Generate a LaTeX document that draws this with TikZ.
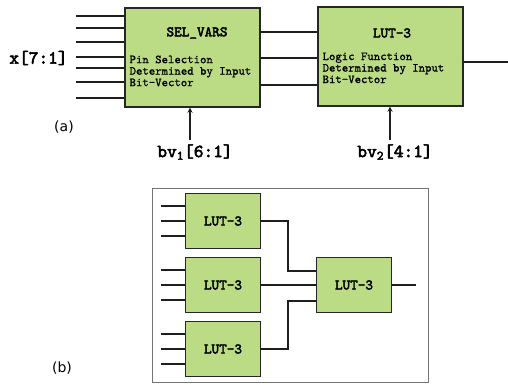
\documentclass[tikz,border=0pt]{standalone}
\usepackage{fontspec}
\setsansfont{DejaVu Sans}
\setmonofont{lmmono10-regular.otf}[UprightFeatures={FakeBold=1}, BoldFont=lmmono10-regular.otf, BoldFeatures={FakeBold=3}]
\usetikzlibrary{arrows,positioning}
\definecolor{lutgreen}{RGB}{187,220,133}
\definecolor{wire}{RGB}{30,30,30}
\begin{document}
\begin{tikzpicture}[x=1pt,y=-1pt, line width=1.2pt, draw=wire, >=stealth,
	bigblk/.style={draw=black!85, fill=lutgreen, line width=1.4pt, minimum width=135pt, minimum height=99pt, inner sep=0pt},
	lutblk/.style={draw=black!85, fill=lutgreen, line width=1.4pt, minimum width=75pt, minimum height=55pt, inner sep=0pt, font=\ttfamily\bfseries\fontsize{14.5}{16}\selectfont},
	ttl/.style={font=\ttfamily\bfseries\fontsize{14.5}{16}\selectfont},
	desc/.style={font=\ttfamily\fontsize{12.2}{11.5}\selectfont, align=left, anchor=north west, inner sep=0pt},
	sig/.style={font=\ttfamily\bfseries\fontsize{18.5}{20}\selectfont},
	tag/.style={font=\sffamily\fontsize{14}{16}\selectfont}]
		\useasboundingbox (0,0) rectangle (508,385);
		% (a) two stage block
		\node[bigblk] (sel) at (192.5,57.5) {};
		\node[bigblk, minimum width=145pt] (lut) at (390.5,56.5) {};
		\node[ttl] (selT) at (197,33) {SEL\_VARS};
		\node[desc] (selD) at (129,55) {Pin Selection\\Determined by Input\\Bit-Vector};
		\node[ttl] (lutT) at (392,33) {LUT-3};
		\node[desc] (lutD) at (322,52) {Logic Function\\Determined by Input\\Bit-Vector};
		\foreach \y [count=\i] in {16,28,42,57,68,82,98} {
			\coordinate (xin\i) at (76,\y);
			\draw (xin\i) -- (xin\i -| sel.west);
		}
		\node[sig] (xlab) at (38.5,58) {x[7:1]};
		\foreach \y in {32,58,85}
			\draw (sel.east |- 0,\y) -- (lut.west |- 0,\y);
		\coordinate (yout) at (508,62);
		\draw (lut.east |- yout) -- (yout);
		\node[sig] (bvA) at (195,152) {bv\textsubscript{1}[6:1]};
		\node[sig] (bvB) at (395,152) {bv\textsubscript{2}[4:1]};
		\draw[->] ([xshift=-5pt]bvA.north) -- ([xshift=-5pt]bvA.north |- sel.south);
		\draw[->] ([xshift=-5pt]bvB.north) -- ([xshift=-5pt]bvB.north |- lut.south);
		\node[tag] (tagA) at (64,127) {(a)};
		% (b) tree of LUT-3
		\draw[draw=black!55, line width=1pt] (152,188) rectangle (428,382);
		\node[lutblk] (l1) at (223,221) {LUT-3};
		\node[lutblk] (l2) at (223,285) {LUT-3};
		\node[lutblk] (l3) at (223,349) {LUT-3};
		\node[lutblk] (l4) at (354,285) {LUT-3};
		\coordinate (frm) at (161,0);
		\foreach \b in {l1,l2,l3}
			\foreach \d in {-15,0,15} {
				\coordinate (in) at ([yshift=\d pt]\b.west);
				\draw (in) -- (in -| frm);
			}
		\coordinate (jct) at (288,0);
		\draw (l1.east) -| ([yshift=14pt]l4.west -| jct) -- ([yshift=14pt]l4.west);
		\draw (l2.east) -- (l4.west);
		\draw (l3.east) -| ([yshift=-16pt]l4.west -| jct) -- ([yshift=-16pt]l4.west);
		\coordinate (yout2) at (416,285);
		\draw (l4.east) -- (yout2);
		\node[tag] (tagB) at (62,368) {(b)};
		\end{tikzpicture}
\end{document}
